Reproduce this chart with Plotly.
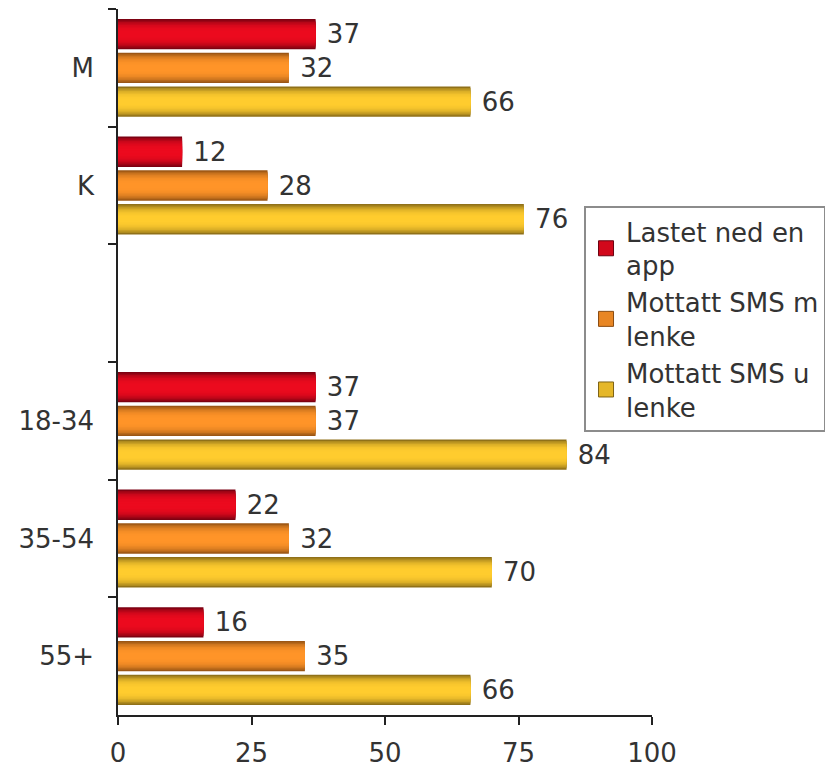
import plotly.graph_objects as go

# Survey shares (%) per group
categories = ["M", "K", " ", "18-34", "35-54", "55+"]
series_names = ["Lastet ned en<br>app", "Mottatt SMS m<br>lenke", "Mottatt SMS u<br>lenke"]
lastet_ned_app = [37, 12, None, 37, 22, 16]
sms_med_lenke = [32, 28, None, 37, 32, 35]
sms_uten_lenke = [66, 76, None, 84, 70, 66]
x_ticks = [0, 25, 50, 75, 100]

series_values = [lastet_ned_app, sms_med_lenke, sms_uten_lenke]
edge_colors = ["#6b0010", "#8a4c12", "#7d6216"]
center_colors = ["#ec0a1e", "#ff9428", "#ffcc2e"]

SLOT = 0.287      # distance between bar centres within a group (category units)
BAR = 0.258       # bar thickness (category units)
N_LAYERS = 10     # stacked layers used to fake the cylindrical shading
FONT = "DejaVu Sans, Verdana, sans-serif"
TEXT_COLOR = "#333333"


def hex_to_rgb(h):
    h = h.lstrip("#")
    return tuple(int(h[j:j + 2], 16) for j in (0, 2, 4))


def mix(c1, c2, t):
    a, b = hex_to_rgb(c1), hex_to_rgb(c2)
    r = [round(a[j] + (b[j] - a[j]) * t) for j in range(3)]
    return f"rgb({r[0]},{r[1]},{r[2]})"


fig = go.Figure()
for i, (name, vals) in enumerate(zip(series_names, series_values)):
    centre = (i - 1) * SLOT
    labels = ["\u00a0" + str(v) if v is not None else "" for v in vals]
    for k in range(N_LAYERS):
        h = 1 - k / N_LAYERS
        d = h - 0.5 / N_LAYERS
        s = 1 - d ** 3
        color = mix(edge_colors[i], center_colors[i], s)
        w = BAR * h
        first = k == 0
        fig.add_trace(go.Bar(
            orientation="h",
            y=categories,
            x=vals,
            width=w,
            offset=centre - w / 2,
            name=name,
            legendgroup=f"s{i}",
            showlegend=False,
            marker=dict(color=color, line=dict(width=0)),
            text=labels if first else None,
            textposition="outside" if first else "none",
            textfont=dict(size=26, color=TEXT_COLOR, family=FONT),
            constraintext="none",
            cliponaxis=False,
            hoverinfo="skip",
        ))
    # legend key: a larger square swatch for the series
    fig.add_trace(go.Scatter(
        x=[None], y=[None],
        mode="markers",
        name=name,
        legendgroup=f"s{i}",
        showlegend=True,
        marker=dict(symbol="square", size=15, color=mix(edge_colors[i], center_colors[i], 0.8),
                    line=dict(color=edge_colors[i], width=1)),
        hoverinfo="skip",
    ))

fig.update_layout(
    width=825,
    height=767,
    barmode="overlay",
    paper_bgcolor="white",
    plot_bgcolor="white",
    margin=dict(l=118, r=173, t=9, b=52, autoexpand=False),
    font=dict(family=FONT, size=26, color=TEXT_COLOR),
    showlegend=True,
    legend=dict(
        x=0.8727, y=0.721, xanchor="left", yanchor="top",
        bgcolor="white", bordercolor="#8c8c8c", borderwidth=2,
        font=dict(size=26, color=TEXT_COLOR, family=FONT),
        traceorder="normal", tracegroupgap=0,
    ),
    hovermode=False,
)

fig.update_yaxes(
    type="category",
    categoryorder="array",
    categoryarray=categories,
    range=[5.5, -0.5],
    showline=True, linecolor="#222222", linewidth=1.5,
    ticks="outside", tickson="boundaries", ticklen=8, tickcolor="#222222", tickwidth=1.5,
    ticklabelstandoff=17,
    tickfont=dict(size=26, color=TEXT_COLOR, family=FONT),
    showgrid=False, zeroline=False,
)
fig.update_xaxes(
    range=[0, 100],
    tickvals=x_ticks,
    showline=True, linecolor="#222222", linewidth=1.5,
    ticks="outside", ticklen=8, tickcolor="#222222", tickwidth=1.5,
    ticklabelstandoff=6,
    tickfont=dict(size=26, color=TEXT_COLOR, family=FONT),
    showgrid=False, zeroline=False,
)

fig.write_html("out.html")
